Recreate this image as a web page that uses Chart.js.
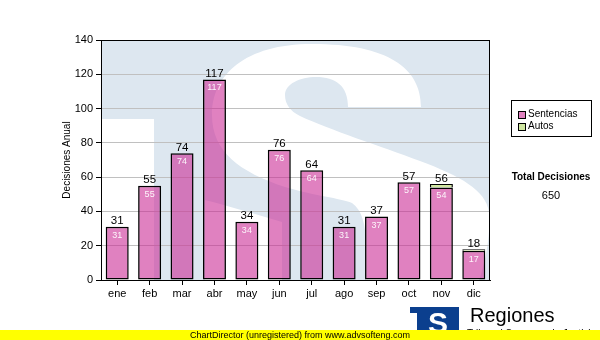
<!DOCTYPE html>
<html>
<head>
<meta charset="utf-8">
<script src="https://cdn.jsdelivr.net/npm/chart.js@4/dist/chart.umd.min.js"></script>
<style>
  html, body { margin: 0; padding: 0; background: #fff; }
  canvas { display: block; }
</style>
</head>
<body>
<canvas id="chart" width="600" height="340"></canvas>
<script>
// Monthly decisions, stacked by type
const months = ['ene', 'feb', 'mar', 'abr', 'may', 'jun', 'jul', 'ago', 'sep', 'oct', 'nov', 'dic'];
const sentencias = [31, 55, 74, 117, 34, 76, 64, 31, 37, 57, 54, 17];
const autos = [0, 0, 0, 0, 0, 0, 0, 0, 0, 0, 2, 1];
const seriesNames = ['Sentencias', 'Autos'];
const yAxisTitle = 'Decisiones Anual';
const yRange = [0, 140];
const yStep = 20;

const FONT = '"Liberation Sans", Arial, sans-serif';
const PINK = 'rgba(202, 40, 148, 0.59)';
const GREEN = '#cfe6a0';

const totals = sentencias.map((v, i) => v + autos[i]);
const grandTotal = totals.reduce((a, b) => a + b, 0);

// Plot background: the large pale "TS" emblem
const emblem = {
  id: 'emblem',
  beforeDraw(chart) {
    const { ctx, chartArea: a } = chart;
    const w = a.right - a.left, h = a.bottom - a.top;
    ctx.save();
    ctx.beginPath();
    ctx.rect(a.left, a.top, w, h);
    ctx.clip();
    ctx.fillStyle = '#dde7f0';
    ctx.fillRect(a.left, a.top, w, h);
    ctx.fillStyle = '#ffffff';
    // gap beside the T stem
    ctx.fillRect(a.left, 119, 53, 200);
    // the S
    ctx.beginPath();
    ctx.moveTo(421, 107);
    ctx.bezierCurveTo(421, 68, 388, 44, 312, 44);
    ctx.bezierCurveTo(245, 44, 212, 75, 212, 115);
    ctx.bezierCurveTo(212, 152, 240, 172, 285, 187);
    ctx.bezierCurveTo(315, 196, 340, 198, 352, 203);
    ctx.bezierCurveTo(362, 210, 366, 225, 366, 245);
    ctx.lineTo(366, 300);
    ctx.lineTo(282, 300);
    ctx.lineTo(282, 222);
    ctx.bezierCurveTo(255, 214, 228, 206, 205, 200);
    ctx.lineTo(205, 300);
    ctx.lineTo(472, 300);
    ctx.bezierCurveTo(484, 270, 491, 240, 489, 212);
    ctx.bezierCurveTo(486, 190, 460, 176, 420, 161);
    ctx.bezierCurveTo(380, 146, 330, 130, 300, 116);
    ctx.bezierCurveTo(290, 111, 285, 104, 285, 95);
    ctx.bezierCurveTo(285, 84, 300, 77, 316, 77);
    ctx.bezierCurveTo(336, 77, 348, 86, 348, 107);
    ctx.closePath();
    ctx.fill();
    ctx.restore();
  }
};

// Frame, value labels, legend box, total and footer
const overlay = {
  id: 'overlay',
  afterDatasetsDraw(chart) {
    const { ctx } = chart;
    const m0 = chart.getDatasetMeta(0).data;
    const m1 = chart.getDatasetMeta(1).data;
    ctx.save();
    ctx.textAlign = 'center';
    ctx.textBaseline = 'alphabetic';
    m0.forEach((bar, i) => {
      ctx.font = '9px ' + FONT;
      ctx.fillStyle = 'rgba(255,255,255,0.92)';
      ctx.fillText(String(sentencias[i]), bar.x, bar.y + 11);
      const top = m1[i].y;
      ctx.font = '11.5px ' + FONT;
      ctx.fillStyle = '#000';
      ctx.fillText(String(totals[i]), bar.x, top - 2.5);
    });
    ctx.restore();
  },
  afterDraw(chart) {
    const { ctx, chartArea: a } = chart;
    ctx.save();
    // plot frame
    ctx.strokeStyle = '#000';
    ctx.lineWidth = 1;
    ctx.strokeRect(Math.round(a.left) + 0.5, Math.round(a.top) + 0.5,
                   Math.round(a.right - a.left) - 1, Math.round(a.bottom - a.top));

    // y axis title
    ctx.save();
    ctx.translate(67, 160);
    ctx.rotate(-Math.PI / 2);
    ctx.font = '10px ' + FONT;
    ctx.fillStyle = '#000';
    ctx.textAlign = 'center';
    ctx.textBaseline = 'middle';
    ctx.fillText(yAxisTitle, 0, 0);
    ctx.restore();

    // legend
    ctx.fillStyle = '#fff';
    ctx.fillRect(511, 100, 80, 36);
    ctx.strokeRect(511.5, 100.5, 80, 36);
    const colors = [PINK, GREEN];
    ctx.font = '10px ' + FONT;
    ctx.textAlign = 'left';
    ctx.textBaseline = 'middle';
    seriesNames.forEach((name, i) => {
      const y = 111 + i * 12;
      ctx.fillStyle = '#fff';
      ctx.fillRect(518, y, 7, 7);
      ctx.fillStyle = colors[i];
      ctx.fillRect(518, y, 7, 7);
      ctx.strokeStyle = '#000';
      ctx.strokeRect(518.5, y + 0.5, 7, 7);
      ctx.fillStyle = '#000';
      ctx.fillText(name, 528, y + 3.5);
    });

    // grand total
    ctx.textAlign = 'center';
    ctx.font = 'bold 10px ' + FONT;
    ctx.fillText('Total Decisiones', 551, 177);
    ctx.font = '11px ' + FONT;
    ctx.fillText(String(grandTotal), 551, 196);

    // logo
    ctx.fillStyle = '#0b3f8e';
    ctx.fillRect(410, 307, 49, 24);
    ctx.save();
    ctx.beginPath();
    ctx.rect(410, 307, 49, 24);
    ctx.clip();
    ctx.fillStyle = '#fff';
    ctx.fillRect(410, 313, 7, 20);
    ctx.font = 'bold 30px ' + FONT;
    ctx.textAlign = 'center';
    ctx.textBaseline = 'alphabetic';
    ctx.fillText('S', 438, 333);
    ctx.restore();
    ctx.fillStyle = '#000';
    ctx.textAlign = 'left';
    ctx.textBaseline = 'alphabetic';
    ctx.font = '20px ' + FONT;
    ctx.fillText('Regiones', 470, 322);
    ctx.font = '10px ' + FONT;
    ctx.fillText('Tribunal Supremo de Justicia', 467, 337);

    // footer band
    ctx.fillStyle = '#ffff00';
    ctx.fillRect(0, 330, 600, 10);
    ctx.fillStyle = '#000';
    ctx.font = '9px ' + FONT;
    ctx.textAlign = 'center';
    ctx.textBaseline = 'middle';
    ctx.fillText('ChartDirector (unregistered) from www.advsofteng.com', 300, 335.5);
    ctx.restore();
  }
};

new Chart(document.getElementById('chart'), {
  type: 'bar',
  data: {
    labels: months,
    datasets: [
      { label: seriesNames[0], data: sentencias, backgroundColor: PINK,
        borderColor: '#000', borderWidth: 1.5, borderSkipped: false },
      { label: seriesNames[1], data: autos, backgroundColor: GREEN,
        borderColor: '#000', borderWidth: { top: 1, left: 1.5, right: 1.5, bottom: 0 },
        borderSkipped: false }
    ]
  },
  options: {
    responsive: false,
    animation: false,
    devicePixelRatio: 1,
    layout: { padding: { left: 0, right: 110, top: 40, bottom: 0 } },
    datasets: { bar: { barPercentage: 0.71, categoryPercentage: 1 } },
    plugins: { legend: { display: false }, tooltip: { enabled: false } },
    scales: {
      x: {
        stacked: true,
        afterFit(s) { s.height = 60; },
        grid: { display: true, drawOnChartArea: false, offset: false,
                drawTicks: true, tickLength: 5, tickColor: '#000' },
        border: { display: true, color: '#000', width: 1 },
        ticks: { color: '#000', font: { family: FONT, size: 11 }, padding: 2,
                 maxRotation: 0, autoSkip: false }
      },
      y: {
        stacked: true,
        min: yRange[0], max: yRange[1],
        afterFit(s) { s.width = 101; },
        grid: { color: '#c0c0c0', drawTicks: true, tickLength: 5, tickColor: '#000' },
        border: { display: true, color: '#000', width: 1 },
        ticks: { stepSize: yStep, color: '#000', font: { family: FONT, size: 11 }, padding: 3 }
      }
    }
  },
  plugins: [emblem, overlay]
});
</script>
</body>
</html>
